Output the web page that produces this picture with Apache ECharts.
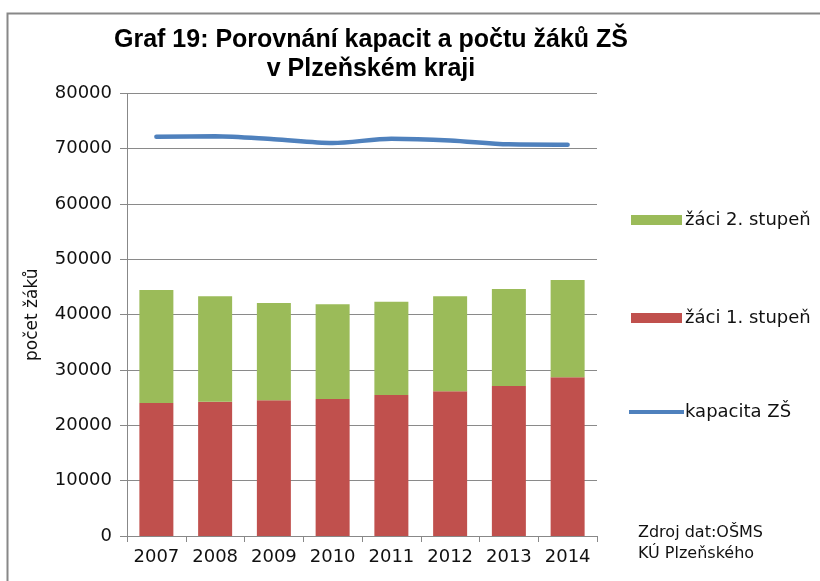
<!DOCTYPE html>
<html>
<head>
<meta charset="utf-8">
<script src="https://cdn.jsdelivr.net/npm/echarts@6/dist/echarts.min.js"></script>
<style>
html,body{margin:0;padding:0;background:#fff;}
#c{width:820px;height:581px;}
</style>
</head>
<body>
<div id="c"></div>
<script>
const years = ['2007','2008','2009','2010','2011','2012','2013','2014'];
const stupen1 = [24040, 24270, 24520, 24760, 25480, 26150, 27110, 28680];
const stupen2 = [20420, 19050, 17590, 17120, 16870, 17170, 17530, 17590];
const kapacita = [72170, 72240, 71700, 71030, 71810, 71500, 70790, 70720];

const FONT = '"DejaVu Sans", sans-serif';
const TFONT = '"Liberation Sans", Arial, sans-serif';
const chart = echarts.init(document.getElementById('c'), null, {renderer:'canvas'});
chart.setOption({
  animation: false,
  backgroundColor: '#fff',
  title: {
    text: 'Graf 19: Porovnání kapacit a počtu žáků ZŠ\nv Plzeňském kraji',
    left: 366, top: 21, textAlign: 'center',
    textStyle: {fontFamily: TFONT, fontSize: 25, fontWeight: 'bold', color: '#000', lineHeight: 29}
  },
  graphic: [
    {type:'rect', shape:{x:7.5, y:13.5, width:830, height:600}, style:{fill:'none', stroke:'#888', lineWidth:2}, silent:true},
    {type:'text', left: 638, top: 522, style:{text:'Zdroj dat:OŠMS\nKÚ Plzeňského', font:'16px "DejaVu Sans", sans-serif', fill:'#111', lineHeight: 21}}
  ],
  legend: [
    {
      orient: 'vertical', left: 626, top: 206, itemGap: 80,
      itemWidth: 51, itemHeight: 10, icon: 'rect',
      data: ['žáci 2. stupeň', 'žáci 1. stupeň'],
      textStyle: {fontFamily: FONT, fontSize: 18, color: '#111', padding:[0,0,0,-2]}
    },
    {
      orient: 'vertical', left: 624, top: 398,
      itemWidth: 55, itemHeight: 4, icon: 'rect',
      data: ['kapacita ZŠ'],
      textStyle: {fontFamily: FONT, fontSize: 18, color: '#111', padding:[0,0,0,-4]}
    }
  ],
  grid: {left: 127, right: 223, top: 93.4, bottom: 45, containLabel: false},
  xAxis: {
    type: 'category', data: years,
    axisLine: {lineStyle: {color: '#888', width: 1}},
    axisTick: {show: true, alignWithLabel: false, interval: 0, length: 6, lineStyle: {color: '#888'}},
    axisLabel: {fontFamily: FONT, fontSize: 18, color: '#111', margin: 12, interval: 0, hideOverlap: false}
  },
  yAxis: {
    type: 'value', min: 0, max: 80000, interval: 10000,
    name: 'počet žáků', nameLocation: 'middle', nameGap: 86, nameRotate: 90,
    nameTextStyle: {fontFamily: FONT, fontSize: 17, color: '#111'},
    axisLine: {show: true, lineStyle: {color: '#888', width: 1}},
    axisTick: {show: true, inside: false, length: 7, lineStyle: {color: '#888'}},
    axisLabel: {fontFamily: FONT, fontSize: 18, color: '#111', margin: 15, formatter: v => String(v)},
    splitLine: {lineStyle: {color: '#8a8a8a', width: 1}}
  },
  series: [
    {name: 'žáci 1. stupeň', type: 'bar', stack: 'z', data: stupen1, barWidth: 34,
     itemStyle: {color: '#C0504D'}},
    {name: 'žáci 2. stupeň', type: 'bar', stack: 'z', data: stupen2, barWidth: 34,
     itemStyle: {color: '#9BBB59'}},
    {name: 'kapacita ZŠ', type: 'line', data: kapacita, smooth: 0.3, symbol: 'none',
     lineStyle: {color: '#4F81BD', width: 4.5, cap: 'round'}, itemStyle: {color: '#4F81BD'}}
  ]
});
</script>
</body>
</html>
